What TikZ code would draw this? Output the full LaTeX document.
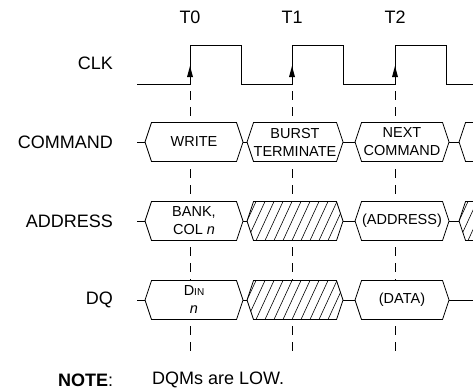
\documentclass[tikz,border=0pt]{standalone}
\usepackage{fontspec}
\setmainfont{Liberation Sans}

\tikzset{
  sig/.style={line width=0.9pt},
  bus/.style={line width=0.8pt, fill=white},
  guide/.style={line width=0.8pt, dash pattern=on 9pt off 7pt, dash phase=9pt},
  hatch/.style={line width=0.6pt},
  lbl/.style={font=\fontsize{18}{20}\selectfont, anchor=east, inner sep=0pt},
  tick/.style={font=\fontsize{18}{20}\selectfont, inner sep=0pt},
  bustext/.style={font=\fontsize{14.5}{18}\selectfont, align=center, inner sep=0pt}
}

% hexagon on a bus row: name, left tip, right tip, middle, text
\newcommand{\bushex}[5]{
  \draw[bus] (#2,#4) -- (#2+6.5,#4-19.5) -- (#3-6.5,#4-19.5) -- (#3,#4)
    -- (#3-6.5,#4+19.5) -- (#2+6.5,#4+19.5) -- cycle;
  \node[bustext] (#1) at ({(#2+#3)/2},#4) {#5};
}
% hatched (don't care) hexagon: left tip, right tip, middle
\newcommand{\hatchhex}[3]{
  \fill[white] (#1,#3) -- (#1+6.5,#3-19.5) -- (#2-6.5,#3-19.5) -- (#2,#3)
    -- (#2-6.5,#3+19.5) -- (#1+6.5,#3+19.5) -- cycle;
  \begin{scope}
    \clip (#1,#3) -- (#1+6.5,#3-19.5) -- (#2-6.5,#3-19.5) -- (#2,#3)
      -- (#2-6.5,#3+19.5) -- (#1+6.5,#3+19.5) -- cycle;
    \foreach \h in {-18,-9,...,99}
      \draw[hatch] (#1+\h,#3+19.5) -- ++(18,-39);
  \end{scope}
  \draw[line width=0.8pt] (#1,#3) -- (#1+6.5,#3-19.5) -- (#2-6.5,#3-19.5) -- (#2,#3)
    -- (#2-6.5,#3+19.5) -- (#1+6.5,#3+19.5) -- cycle;
}

\begin{document}
\begin{tikzpicture}[x=1pt,y=-1pt]
  \useasboundingbox (0,0) rectangle (473,391);

  % clock edge labels
  \node[tick] (t0) at (190,17) {T0};
  \node[tick] (t1) at (292,17) {T1};
  \node[tick] (t2) at (395,17) {T2};

  % row labels
  \node[lbl] (clk) at (113,63) {CLK};
  \node[lbl] (cmd) at (113,142) {COMMAND};
  \node[lbl] (addr) at (113,221) {ADDRESS};
  \node[lbl] (dq) at (113,300) {DQ};

  % dashed guides
  \foreach \x in {190,292,395}
    \foreach \ya/\yb in {84/122,162/202,240/280,319/352}
      \draw[guide] (\x,\ya) -- (\x,\yb);

  % clock
  \draw[sig] (137,84) -- (190,84) -- (190,45) -- (241,45) -- (241,84)
    -- (292,84) -- (292,45) -- (343,45) -- (343,84)
    -- (395,84) -- (395,45) -- (446,45) -- (446,84) -- (473,84);
  \foreach \x in {190,292,395}
    \fill (\x,66) -- (\x-3,77) -- (\x+3,77) -- cycle;

  % COMMAND
  \draw[sig] (137,142) -- (145,142) (243,142) -- (247,142)
    (343,142) -- (355,142) (449,142) -- (459,142);
  \bushex{write}{145}{243}{142}{WRITE}
  \bushex{bst}{247}{343}{142}{BURST\\TERMINATE}
  \bushex{nxt}{355}{449}{142}{NEXT\\COMMAND}
  \draw[line width=0.8pt] (474,122.5) -- (465.5,122.5) -- (459,142)
    -- (465.5,161.5) -- (474,161.5);

  % ADDRESS
  \draw[sig] (137,221) -- (145,221) (243,221) -- (247,221)
    (343,221) -- (355,221) (449,221) -- (459,221);
  \bushex{bank}{145}{243}{221}{BANK,\\COL \textit{n}}
  \hatchhex{247}{343}{221}
  \bushex{adr}{355}{449}{221}{(ADDRESS)}
  \hatchhex{459}{555}{221}

  % DQ
  \draw[sig] (137,300) -- (145,300) (243,300) -- (247,300)
    (343,300) -- (355,300) (449,300) -- (473,300);
  \bushex{din}{145}{243}{300}{D{\fontsize{10}{12}\selectfont IN}\\\textit{n}}
  \hatchhex{247}{343}{300}
  \bushex{data}{355}{449}{300}{(DATA)}

  % note
  \node[tick, anchor=west] (note) at (58,380) {\textbf{NOTE}:};
  \node[tick, anchor=west] (dqm) at (152,380) {DQMs are LOW.};
\end{tikzpicture}
\end{document}
